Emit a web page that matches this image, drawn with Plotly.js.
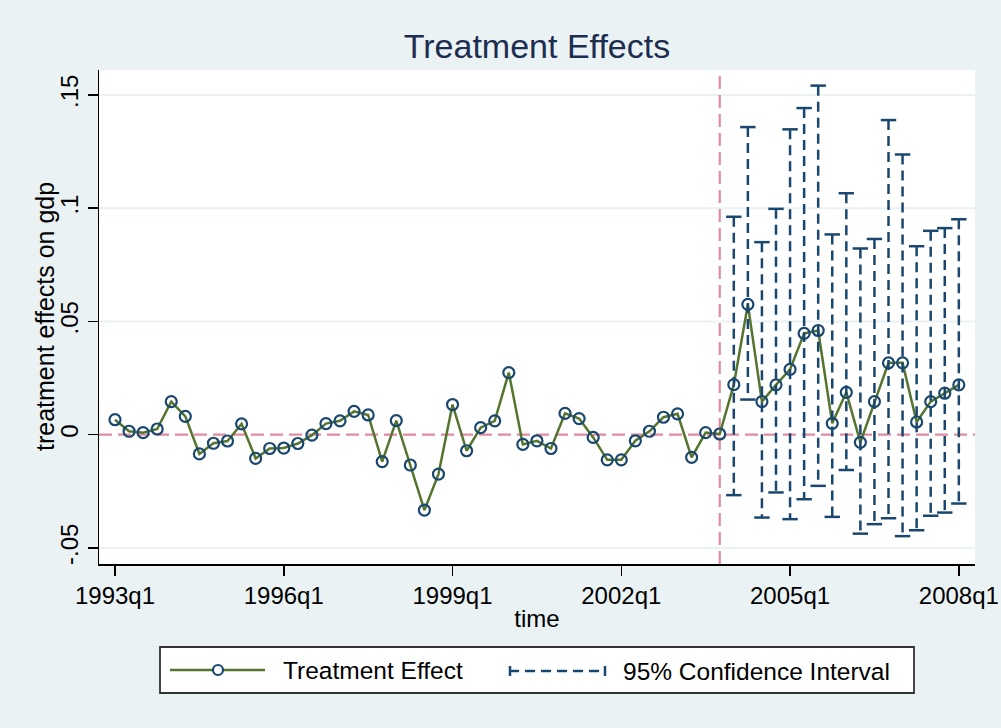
<!DOCTYPE html>
<html>
<head>
<meta charset="utf-8">
<script src="https://cdn.plot.ly/plotly-3.0.1.min.js"></script>
<style>
html,body{margin:0;padding:0;background:#eaf2f3;}
#chart{width:1001px;height:728px;}
</style>
</head>
<body>
<div id="chart"></div>
<script>
// ---- data ----
var quarters = [];
for (var yr = 1993; yr <= 2008; yr++) {
  for (var q = 1; q <= 4; q++) {
    if (yr === 2008 && q > 1) break;
    quarters.push(yr + 'q' + q);
  }
}
var effect = [
  0.0066, 0.0015, 0.0009, 0.0025, 0.0146, 0.0081, -0.0085, -0.0038, -0.0028, 0.0048,
  -0.0105, -0.0061, -0.0059, -0.0039, -0.0002, 0.0049, 0.0061, 0.0103, 0.0087, -0.0119,
  0.0062, -0.0134, -0.0333, -0.0174, 0.0133, -0.0071, 0.0031, 0.0061, 0.0274, -0.0043,
  -0.0027, -0.0061, 0.0094, 0.0071, -0.0012, -0.0111, -0.0111, -0.0027, 0.0015, 0.0077,
  0.0092, -0.0100, 0.0009, 0.0003, 0.0221, 0.0575, 0.0146, 0.0220, 0.0288, 0.0447,
  0.0460, 0.0050, 0.0187, -0.0034, 0.0146, 0.0317, 0.0317, 0.0056, 0.0146, 0.0183,
  0.0220
];
var ciQuarters = ['2004q1','2004q2','2004q3','2004q4','2005q1','2005q2','2005q3','2005q4',
  '2006q1','2006q2','2006q3','2006q4','2007q1','2007q2','2007q3','2007q4','2008q1'];
var ciUpper = [0.0962, 0.1358, 0.0850, 0.0997, 0.1348, 0.1442, 0.1541, 0.0884, 0.1066,
  0.0822, 0.0864, 0.1389, 0.1237, 0.0832, 0.0900, 0.0912, 0.0951];
var ciLower = [-0.0267, 0.0155, -0.0366, -0.0255, -0.0373, -0.0285, -0.0226, -0.0363, -0.0156,
  -0.0437, -0.0395, -0.0369, -0.0448, -0.0422, -0.0358, -0.0344, -0.0304];
var xTickLabels = ['1993q1','1996q1','1999q1','2002q1','2005q1','2008q1'];
var yTickVals = [-0.05, 0, 0.05, 0.1, 0.15];
var yTickText = ['-.05', '0', '.05', '.1', '.15'];
var treatmentStart = '2003q4';
var seriesNames = ['Treatment Effect', '95% Confidence Interval'];

// ---- styles ----
var NAVY = '#1a476f', GREEN = '#55752f', PINK = '#e08ca0', BG = '#eaf2f3';
var FONT = 'Arial, "Liberation Sans", sans-serif';
var CIDASH = '10px,6px', REFDASH = '13px,6px';

var ciX = [], ciY = [], capX = [], capY = [];
for (var i = 0; i < ciQuarters.length; i++) {
  ciX.push(ciQuarters[i], ciQuarters[i], null);
  ciY.push(ciUpper[i], ciLower[i], null);
  capX.push(ciQuarters[i], ciQuarters[i]);
  capY.push(ciLower[i], ciUpper[i]);
}

var traces = [
  {
    x: quarters, y: effect, type: 'scatter', mode: 'lines+markers', name: seriesNames[0],
    line: {color: GREEN, width: 2.5},
    marker: {symbol: 'circle-open', size: 11, color: NAVY, line: {color: NAVY, width: 2.2}},
    showlegend: false, hoverinfo: 'x+y'
  },
  {
    x: ciX, y: ciY, type: 'scatter', mode: 'lines', name: seriesNames[1],
    line: {color: NAVY, width: 2.5, dash: CIDASH},
    connectgaps: false, showlegend: false, hoverinfo: 'skip'
  },
  {
    x: capX, y: capY, type: 'scatter', mode: 'markers', name: 'caps',
    marker: {symbol: 'line-ew', size: 11, color: NAVY, line: {color: NAVY, width: 2.5}},
    showlegend: false, hoverinfo: 'skip'
  }
];

// pixel helpers for legend (plot area: left 99, right 975, top 70, bottom 564)
var L = 99, T = 70, W = 876, H = 494;
function px(x) { return (x - L) / W; }
function py(y) { return (T + H - y) / H; }

var shapes = [];
// gridlines (all except zero, which is covered by the reference line)
yTickVals.forEach(function (v) {
  if (v !== 0) {
    shapes.push({type: 'line', xref: 'paper', yref: 'y', x0: 0, x1: 1, y0: v, y1: v,
      line: {color: BG, width: 2}, layer: 'below'});
  }
});
shapes.push(
  {type: 'line', xref: 'paper', yref: 'y', x0: 0, x1: 1, y0: 0, y1: 0,
   line: {color: PINK, width: 2.2, dash: REFDASH}, layer: 'below'},
  {type: 'line', xref: 'x', yref: 'paper', x0: treatmentStart, x1: treatmentStart, y0: 0, y1: 1,
   line: {color: PINK, width: 2.2, dash: REFDASH}, layer: 'below'},
  // legend box
  {type: 'rect', xref: 'paper', yref: 'paper', x0: px(160), x1: px(914), y0: py(693), y1: py(647),
   line: {color: '#333333', width: 1.8}, fillcolor: '#ffffff'},
  // legend item 1
  {type: 'line', xref: 'paper', yref: 'paper', x0: px(170), x1: px(265), y0: py(670), y1: py(670),
   line: {color: GREEN, width: 2.5}},
  {type: 'circle', xref: 'paper', yref: 'paper', x0: px(213), x1: px(223), y0: py(675), y1: py(665),
   line: {color: NAVY, width: 2.2}, fillcolor: '#ffffff'},
  // legend item 2
  {type: 'line', xref: 'paper', yref: 'paper', x0: px(509), x1: px(606), y0: py(671), y1: py(671),
   line: {color: NAVY, width: 2.5, dash: CIDASH}},
  {type: 'line', xref: 'paper', yref: 'paper', x0: px(510), x1: px(510), y0: py(676), y1: py(666),
   line: {color: NAVY, width: 2.5}},
  {type: 'line', xref: 'paper', yref: 'paper', x0: px(605), x1: px(605), y0: py(676), y1: py(666),
   line: {color: NAVY, width: 2.5}}
);

var annotations = [
  {xref: 'paper', yref: 'paper', x: px(281), y: py(670), xanchor: 'left', yanchor: 'middle',
   text: seriesNames[0], showarrow: false, font: {family: FONT, size: 24.5, color: '#000'}},
  {xref: 'paper', yref: 'paper', x: px(621), y: py(671), xanchor: 'left', yanchor: 'middle',
   text: seriesNames[1], showarrow: false, font: {family: FONT, size: 24.5, color: '#000'}},
  {xref: 'paper', yref: 'paper', x: px(45), y: 0.5, xanchor: 'center', yanchor: 'middle',
   textangle: -90, text: 'treatment effects on gdp', showarrow: false,
   font: {family: FONT, size: 25, color: '#000'}}
];

var layout = {
  width: 1001, height: 728,
  paper_bgcolor: BG, plot_bgcolor: '#ffffff',
  margin: {l: L, r: 1001 - L - W, t: T, b: 728 - T - H, pad: 0},
  font: {family: FONT, size: 24, color: '#000'},
  title: {text: 'Treatment Effects', x: 0.5, xref: 'paper', y: 1 - 46 / 728, yref: 'container',
          yanchor: 'middle', font: {family: FONT, size: 34, color: '#1c2d50'}},
  showlegend: false,
  xaxis: {
    type: 'category', categoryorder: 'array', categoryarray: quarters,
    range: [-1.138, 61.15], tickmode: 'array', tickvals: xTickLabels, ticktext: xTickLabels,
    showgrid: false, zeroline: false, showline: true, linecolor: '#000', linewidth: 1.5,
    ticks: 'outside', ticklen: 10, tickwidth: 1.5, tickcolor: '#000',
    tickfont: {family: FONT, size: 24, color: '#000'},
    title: {text: 'time', font: {family: FONT, size: 24, color: '#000'}, standoff: 2},
    automargin: false
  },
  yaxis: {
    range: [-0.0571, 0.1610], tickmode: 'array', tickvals: yTickVals, ticktext: yTickText,
    tickangle: -90, showgrid: false, zeroline: false,
    showline: true, linecolor: '#000', linewidth: 1.5,
    ticks: 'outside', ticklen: 10, tickwidth: 1.5, tickcolor: '#000',
    tickfont: {family: FONT, size: 24, color: '#000'},
    automargin: false
  },
  shapes: shapes,
  annotations: annotations
};

Plotly.newPlot('chart', traces, layout, {displayModeBar: false, staticPlot: true});
</script>
</body>
</html>
